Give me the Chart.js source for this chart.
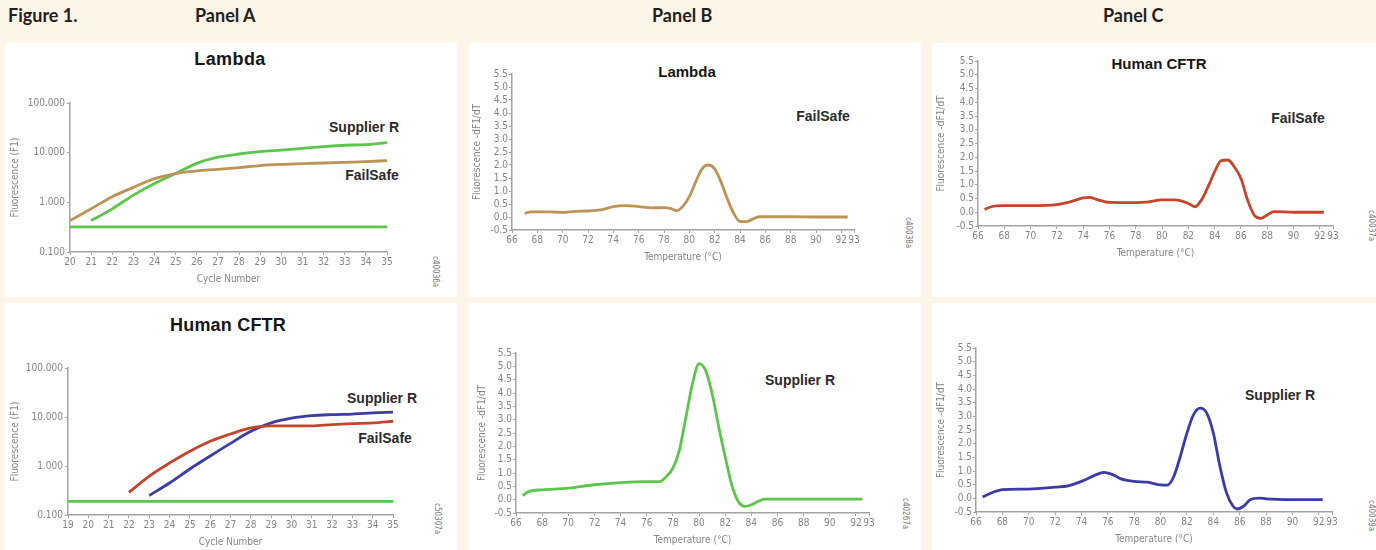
<!DOCTYPE html>
<html><head><meta charset="utf-8">
<script src="https://cdn.jsdelivr.net/npm/chart.js@4.4.1/dist/chart.umd.min.js"></script>
<style>
html,body{margin:0;padding:0;}
body{width:1376px;height:550px;background:#fdf5e7;position:relative;overflow:hidden;font-family:'Liberation Sans',Arial,sans-serif;}
.hdr{position:absolute;top:4px;font-family:Lato,'Open Sans',sans-serif;font-weight:700;font-size:18px;color:#231f20;white-space:nowrap;}
.panel{position:absolute;background:#fff;}
canvas{position:absolute;}
.ttl{position:absolute;font-weight:700;color:#151515;transform:translate(-50%,-50%);white-space:nowrap;}
.lbl{position:absolute;font-weight:700;color:#2b2b2b;font-size:14px;transform:translate(-50%,-50%);white-space:nowrap;}
.code{position:absolute;font-size:8px;color:#777;transform-origin:0 0;transform:rotate(90deg);white-space:nowrap;font-family:'Liberation Sans Narrow','DejaVu Sans Condensed',sans-serif;}
</style></head><body>
<div class="hdr" style="left:8px">Figure 1.</div>
<div class="hdr" style="left:195px">Panel A</div>
<div class="hdr" style="left:652px">Panel B</div>
<div class="hdr" style="left:1103px">Panel C</div>

<div class="panel" style="left:5px;top:43px;width:452px;height:254px"></div>
<div class="panel" style="left:469px;top:43px;width:452px;height:254px"></div>
<div class="panel" style="left:932px;top:43px;width:444px;height:254px"></div>
<div class="panel" style="left:5px;top:303px;width:452px;height:247px"></div>
<div class="panel" style="left:469px;top:303px;width:452px;height:247px"></div>
<div class="panel" style="left:932px;top:303px;width:444px;height:247px"></div>

<div class="ttl" style="left:230px;top:59px;font-size:18px;letter-spacing:0.4px">Lambda</div>
<div class="ttl" style="left:228px;top:325px;font-size:18px;letter-spacing:0.2px">Human CFTR</div>
<div class="ttl" style="left:687px;top:71px;font-size:15px">Lambda</div>
<div class="ttl" style="left:1159px;top:63px;font-size:15px">Human CFTR</div>

<div class="lbl" style="left:364px;top:127px">Supplier R</div>
<div class="lbl" style="left:372px;top:175px">FailSafe</div>
<div class="lbl" style="left:382px;top:398px">Supplier R</div>
<div class="lbl" style="left:385px;top:438px">FailSafe</div>
<div class="lbl" style="left:823px;top:116px">FailSafe</div>
<div class="lbl" style="left:800px;top:380px">Supplier R</div>
<div class="lbl" style="left:1298px;top:118px">FailSafe</div>
<div class="lbl" style="left:1280px;top:395px">Supplier R</div>

<div class="code" style="left:440px;top:256px">c40036a</div>
<div class="code" style="left:442px;top:503px">c50307a</div>
<div class="code" style="left:913px;top:217px">c40038a</div>
<div class="code" style="left:910px;top:498px">c40267a</div>
<div class="code" style="left:1376px;top:210px">c40037a</div>
<div class="code" style="left:1376px;top:500px">c40039a</div>

<script>
// ---------- Panel A (amplification, log scale) ----------
const lambdaCycles = [20,21,22,23,24,25,26,27,28,29,30,31,32,33,34,35];
const lambdaFailSafe = [0.43,0.74,1.3,2.0,3.0,3.8,4.3,4.6,5.0,5.5,5.8,6.0,6.2,6.4,6.6,6.9];
const lambdaSupplierRCycles = [21,22,23,24,25,26,27,28,29,30,31,32,33,34,35];
const lambdaSupplierR = [0.43,0.74,1.4,2.4,3.8,6.1,8.1,9.4,10.5,11.3,12.2,13.2,14.1,14.5,16.0];
const lambdaThresholdCycles = [20,35];
const lambdaThreshold = [0.32,0.32];

const cftrCycles = [19,20,21,22,23,24,25,26,27,28,29,30,31,32,33,34,35];
const cftrFailSafeCycles = [22,23,24,25,26,27,28,29,30,31,32,33,34,35];
const cftrFailSafe = [0.29,0.62,1.15,2.0,3.2,4.5,6.0,6.6,6.6,6.6,7.0,7.3,7.6,8.2];
const cftrSupplierRCycles = [23,24,25,26,27,28,29,30,31,32,33,34,35];
const cftrSupplierR = [0.25,0.45,0.87,1.6,2.9,5.1,7.6,9.5,10.7,11.2,11.5,12.1,12.6];
const cftrThresholdCycles = [19,35];
const cftrThreshold = [0.19,0.19];

const logTickValues = [0.1,1,10,100];
const logTickLabels = ['0.100','1.000','10.000','100.000'];

// ---------- Panels B & C (melt curves) ----------
const meltTempTicks = [66,68,70,72,74,76,78,80,82,84,86,88,90,92,93];
const meltYTicks = [-0.5,0,0.5,1,1.5,2,2.5,3,3.5,4,4.5,5,5.5];

const lambdaMeltTemp = [67,67.5,69,70,71,72,73,74,75,76,77,78,78.5,79,79.5,80,80.5,81,81.5,82,82.5,83,83.5,84,84.5,85,85.5,86,88,90,92.5];
const lambdaMeltFailSafe = [0.14,0.2,0.2,0.18,0.22,0.23,0.27,0.4,0.44,0.4,0.35,0.36,0.33,0.24,0.42,0.78,1.35,1.85,2.0,1.85,1.35,0.7,0.14,-0.17,-0.18,-0.08,0.01,0.01,0.01,0.0,0.0];

const srMeltTemp = [66.5,67,68,70,72,74,76,77,77.5,78,78.5,79,79.5,80,80.5,81,81.5,82,82.5,83,83.5,84,84.5,85,86,88,90,92.5];
const srMeltLambda = [0.15,0.31,0.37,0.43,0.56,0.64,0.68,0.68,0.87,1.18,1.86,3.11,4.35,5.1,4.85,3.98,2.74,1.61,0.56,-0.07,-0.25,-0.19,-0.07,0.02,0.02,0.02,0.02,0.02];

const cftrMeltTemp = [66.5,67,68,70,72,73,74,74.5,75,76,78,79,80,81,82,82.5,83,83.5,84,84.5,85,85.5,86,86.5,87,87.5,88,88.5,90,92.3];
const cftrMeltFailSafe = [0.1,0.2,0.24,0.24,0.28,0.38,0.52,0.54,0.47,0.36,0.35,0.38,0.45,0.45,0.32,0.2,0.45,0.93,1.48,1.88,1.9,1.65,1.23,0.45,-0.1,-0.22,-0.1,0.02,0.0,0.0];

const cftrSrMeltTemp = [66.5,67,67.5,68,70,72,73,74,75,75.7,76.5,77,78,79,80,80.5,81,81.5,82,82.5,83,83.5,84,84.5,85,85.5,85.8,86.3,86.8,87.5,88,90,92.3];
const cftrMeltSupplierR = [0.05,0.16,0.26,0.32,0.34,0.41,0.46,0.62,0.84,0.95,0.84,0.71,0.62,0.59,0.49,0.48,0.8,1.54,2.39,3.06,3.3,3.12,2.39,1.17,0.2,-0.29,-0.39,-0.29,-0.05,0.01,-0.02,-0.05,-0.05];

const COL_TAN = '#bb9456', COL_GREEN = '#5cc54b', COL_RED = '#c4452b', COL_BLUE = '#3c3ca6';
const NARROW = "'Liberation Sans Narrow','DejaVu Sans Condensed','Liberation Sans',sans-serif";

function pts(xs, ys){ return xs.map((x,i)=>({x:x, y:ys[i]})); }
function ds(xs, ys, color){
  return {data:pts(xs,ys), borderColor:color, borderWidth:2.8, pointRadius:0, cubicInterpolationMode:'monotone', fill:false};
}

function makeChart(o){
  const padTop = 10, padRight = 14, xh = 35;
  const w = o.R - o.L + o.yw + padRight;
  const h = o.B - o.T + padTop + xh;
  const c = document.createElement('canvas');
  c.width = w; c.height = h;
  c.style.left = (o.L - o.yw) + 'px';
  c.style.top = (o.T - padTop) + 'px';
  c.style.width = w + 'px'; c.style.height = h + 'px';
  document.body.appendChild(c);
  const axisColor = '#a3a3a3', textColor = '#858585';
  const tickFont = {family:NARROW, size:10};
  const grid = {display:true, drawOnChartArea:false, drawTicks:true, tickLength:3, color:axisColor, lineWidth:1};
  const border = {display:true, color:axisColor, width:1.5};
  let yScale;
  if (o.log) {
    yScale = {type:'logarithmic', min:0.1, max:100,
      afterBuildTicks: s => { s.ticks = logTickValues.map(v=>({value:v})); },
      ticks:{autoSkip:false, color:textColor, font:tickFont, padding:2, callback:(v,i)=>logTickLabels[i]}};
  } else {
    yScale = {type:'linear', min:-0.5, max:5.5,
      afterBuildTicks: s => { s.ticks = meltYTicks.map(v=>({value:v})); },
      ticks:{autoSkip:false, color:textColor, font:tickFont, padding:1, callback:(v,i)=>meltYTicks[i].toFixed(1)}};
  }
  Object.assign(yScale, {
    grid:grid, border:border,
    title:{display:true, text:o.ytitle, color:textColor, font:{family:NARROW, size:10}, padding:0},
    afterFit: s => { s.width = o.yw; }
  });
  const xScale = {type:'linear', min:o.xmin, max:o.xmax,
    afterBuildTicks: s => { s.ticks = o.xticks.map(v=>({value:v})); },
    ticks:{autoSkip:false, maxRotation:0, color:textColor, font:tickFont, padding:1, callback:(v,i)=>String(o.xticks[i])},
    grid:grid, border:border,
    title:{display:true, text:o.xtitle, color:textColor, font:{family:NARROW, size:10}, padding:{top:0,bottom:2}},
    afterFit: s => { s.height = xh; }
  };
  new Chart(c, {
    type:'line',
    data:{datasets:o.datasets},
    options:{
      responsive:false, animation:false, events:[],
      layout:{padding:{left:0, top:padTop, right:padRight, bottom:0}},
      plugins:{legend:{display:false}, tooltip:{enabled:false}, title:{display:false}},
      scales:{x:xScale, y:yScale}
    }
  });
}

makeChart({L:70, R:387, T:103, B:252, yw:61, log:true, xmin:20, xmax:35, xticks:lambdaCycles,
  ytitle:'Fluorescence (F1)', xtitle:'Cycle Number',
  datasets:[ds(lambdaThresholdCycles, lambdaThreshold, COL_GREEN), ds(lambdaCycles, lambdaFailSafe, COL_TAN), ds(lambdaSupplierRCycles, lambdaSupplierR, COL_GREEN)]});

makeChart({L:68, R:393, T:368, B:515, yw:59, log:true, xmin:19, xmax:35, xticks:cftrCycles,
  ytitle:'Fluorescence (F1)', xtitle:'Cycle Number',
  datasets:[ds(cftrThresholdCycles, cftrThreshold, COL_GREEN), ds(cftrFailSafeCycles, cftrFailSafe, COL_RED), ds(cftrSupplierRCycles, cftrSupplierR, COL_BLUE)]});

makeChart({L:512, R:854, T:74, B:230, yw:41, log:false, xmin:66, xmax:93, xticks:meltTempTicks,
  ytitle:'Fluorescence -dF1/dT', xtitle:'Temperature (°C)',
  datasets:[ds(lambdaMeltTemp, lambdaMeltFailSafe, COL_TAN)]});

makeChart({L:516, R:869, T:353, B:513, yw:40, log:false, xmin:66, xmax:93, xticks:meltTempTicks,
  ytitle:'Fluorescence -dF1/dT', xtitle:'Temperature (°C)',
  datasets:[ds(srMeltTemp, srMeltLambda, COL_GREEN)]});

makeChart({L:978, R:1333, T:61, B:226, yw:43, log:false, xmin:66, xmax:93, xticks:meltTempTicks,
  ytitle:'Fluorescence -dF1/dT', xtitle:'Temperature (°C)',
  datasets:[ds(cftrMeltTemp, cftrMeltFailSafe, COL_RED)]});

makeChart({L:976, R:1332, T:348, B:512, yw:41, log:false, xmin:66, xmax:93, xticks:meltTempTicks,
  ytitle:'Fluorescence -dF1/dT', xtitle:'Temperature (°C)',
  datasets:[ds(cftrSrMeltTemp, cftrMeltSupplierR, COL_BLUE)]});
</script>
</body></html>
